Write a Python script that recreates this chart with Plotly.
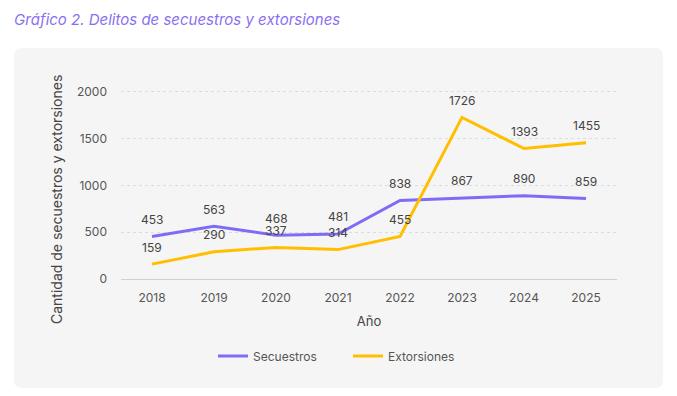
import plotly.graph_objects as go

years = ["2018", "2019", "2020", "2021", "2022", "2023", "2024", "2025"]
secuestros = [453, 563, 468, 481, 838, 867, 890, 859]
extorsiones = [159, 290, 337, 314, 455, 1726, 1393, 1455]
y_ticks = [0, 500, 1000, 1500, 2000]

PURPLE = "#7f6cf6"
YELLOW = "#ffbf00"
FONT = "Inter"

W, H = 677, 396
L, R, T, B = 121, 60, 73, 117
pw, ph = W - L - R, H - T - B

def px_x(p):
    return (p - L) / pw

def px_y(p):
    return (H - B - p) / ph

fig = go.Figure()
fig.add_trace(go.Scatter(x=years, y=secuestros, mode="lines", name="Secuestros",
                         line=dict(color=PURPLE, width=3)))
fig.add_trace(go.Scatter(x=years, y=extorsiones, mode="lines", name="Extorsiones",
                         line=dict(color=YELLOW, width=3)))

annotations = []
for series in (secuestros, extorsiones):
    for i, yv in enumerate(series):
        annotations.append(dict(x=i, y=yv, xref="x", yref="y", text=str(yv), showarrow=False,
                                yshift=17, xanchor="center", yanchor="middle",
                                font=dict(family=FONT, size=12, color="#444")))

annotations.append(dict(xref="paper", yref="paper", x=px_x(56), y=px_y(200),
                        xanchor="center", yanchor="middle",
                        text="Cantidad de secuestros y extorsiones", textangle=-90,
                        showarrow=False, font=dict(family=FONT, size=14, color="#444")))

# rounded grey panel
x0, x1 = px_x(14), px_x(663)
y0, y1 = px_y(388), px_y(48)
rx, ry = 8 / pw, 8 / ph
path = (f"M {x0+rx},{y0} L {x1-rx},{y0} Q {x1},{y0} {x1},{y0+ry} "
        f"L {x1},{y1-ry} Q {x1},{y1} {x1-rx},{y1} L {x0+rx},{y1} "
        f"Q {x0},{y1} {x0},{y1-ry} L {x0},{y0+ry} Q {x0},{y0} {x0+rx},{y0} Z")

fig.update_layout(
    width=W, height=H,
    margin=dict(l=L, r=R, t=T, b=B),
    paper_bgcolor="white",
    plot_bgcolor="rgba(0,0,0,0)",
    font=dict(family=FONT, color="#555"),
    title=dict(text="<i>Gráfico 2. Delitos de secuestros y extorsiones</i>",
               x=14 / W, xref="container", xanchor="left",
               y=1 - 20 / H, yref="container", yanchor="middle",
               font=dict(family=FONT, size=15, color="#8a6ff0")),
    shapes=[dict(type="path", path=path, xref="paper", yref="paper",
                 fillcolor="#f5f5f5", line=dict(width=0), layer="below")],
    annotations=annotations,
    showlegend=True,
    legend=dict(orientation="h", x=px_x(213), xanchor="left", y=px_y(356), yanchor="middle",
                font=dict(family=FONT, size=12, color="#555"), bgcolor="rgba(0,0,0,0)",
                itemwidth=30, entrywidth=90),
    xaxis=dict(type="category", range=[-0.5, 7.5], showgrid=False, showline=False,
               ticks="", ticklabelstandoff=10, tickfont=dict(family=FONT, size=12, color="#555"),
               title=dict(text="Año", font=dict(family=FONT, size=13, color="#444"), standoff=12)),
    yaxis=dict(range=[0, 2200], tickvals=y_ticks, showgrid=True, gridcolor="#dcdcdc",
               griddash="dot", gridwidth=1, zeroline=True, zerolinecolor="#d0d0d0",
               zerolinewidth=1, ticks="", ticklabelstandoff=13,
               tickfont=dict(family=FONT, size=12, color="#555")),
)

fig.write_html("out.html", config={"displayModeBar": False},
               post_script="document.body.style.margin='0';")
